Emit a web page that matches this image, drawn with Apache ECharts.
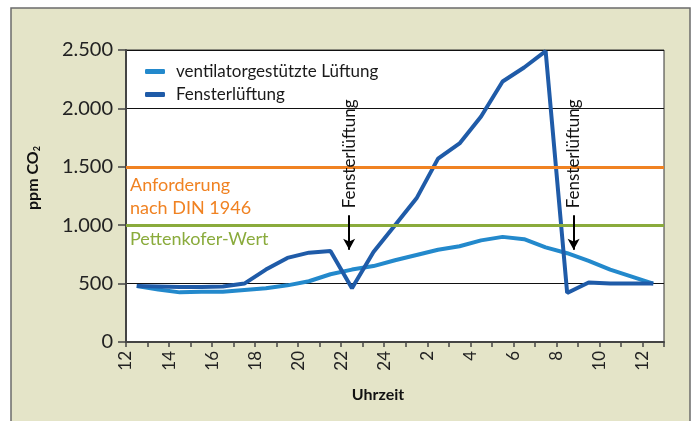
<!DOCTYPE html>
<html>
<head>
<meta charset="utf-8">
<script src="https://cdn.jsdelivr.net/npm/echarts@6/dist/echarts.min.js"></script>
<style>
  html, body { margin: 0; padding: 0; background: #fff; }
  #main { width: 695px; height: 421px; }
</style>
</head>
<body>
<div id="main"></div>
<script>
// Messzeitpunkte: halbe Stunden ab 12:30 (Stunden fortlaufend, 24 = Mitternacht)
var hours = [12.5, 13.5, 14.5, 15.5, 16.5, 17.5, 18.5, 19.5, 20.5, 21.5, 22.5, 23.5, 24.5,
             25.5, 26.5, 27.5, 28.5, 29.5, 30.5, 31.5, 32.5, 33.5, 34.5, 35.5, 36.5];
var ventilator = [480, 450, 425, 430, 430, 445, 460, 485, 520, 580, 620, 650, 700,
                  745, 790, 820, 870, 900, 880, 810, 760, 695, 620, 560, 500];
var fenster = [480, 475, 470, 470, 475, 500, 620, 720, 765, 780, 460, 770, 1000,
               1230, 1570, 1700, 1930, 2230, 2350, 2490, 420, 510, 500, 500, 500];
var seriesNames = ['ventilatorgestützte Lüftung', 'Fensterlüftung'];
var limitDin = 1500;
var limitPettenkofer = 1000;
// Zeitpunkte der Fensterlüftung (Pfeile)
var ventEvents = [22.37, 32.8];

var FONT = 'Lato';
var chart = echarts.init(document.getElementById('main'));

function pairs(ys) {
  return ys.map(function (v, i) { return [hours[i], v]; });
}

var option = {
  animation: false,
  backgroundColor: '#fff',
  textStyle: { fontFamily: FONT },
  graphic: [
    {
      type: 'rect', z: -10, silent: true,
      shape: { x: 11, y: 8, width: 679, height: 420 },
      style: { fill: '#e4e4c8', stroke: '#6b6b6b', lineWidth: 1.5 }
    },
    {
      type: 'text', z: 10, rotation: Math.PI / 2, x: 33, y: 178,
      style: {
        text: '{b|ppm CO}{s|2}',
        rich: {
          b: { fontFamily: FONT, fontWeight: 'bold', fontSize: 16, fill: '#111' },
          s: { fontFamily: FONT, fontWeight: 'bold', fontSize: 9, fill: '#111', padding: [8, 0, 0, 0] }
        },
        align: 'center', verticalAlign: 'middle'
      }
    },
    {
      type: 'text', z: 10, x: 378, y: 395,
      style: {
        text: 'Uhrzeit', fontFamily: FONT, fontWeight: 'bold', fontSize: 16, fill: '#111',
        align: 'center', verticalAlign: 'middle'
      }
    }
  ],
  grid: {
    left: 126, right: 31, top: 50, bottom: 79,
    show: true, backgroundColor: '#fff', borderColor: '#333', borderWidth: 1
  },
  legend: {
    left: 140, top: 58, orient: 'vertical',
    itemWidth: 20, itemHeight: 5, itemGap: 6,
    icon: 'roundRect',
    textStyle: { fontFamily: FONT, fontSize: 17, color: '#1a1a1a', padding: [0, 0, 0, 6] },
    data: seriesNames
  },
  xAxis: {
    type: 'value', min: 12, max: 37, interval: 1,
    axisLine: { show: true, lineStyle: { color: '#444', width: 2 } },
    axisTick: { show: true, length: 5, lineStyle: { color: '#444', width: 1.5 } },
    splitLine: { show: false },
    axisLabel: {
      rotate: 90, margin: 9, fontSize: 17, color: '#222', fontFamily: FONT,
      showMinLabel: true, showMaxLabel: true,
      formatter: function (v) {
        if ((v - 12) % 2 !== 0) return '';
        return String(v <= 24 ? v : v - 24);
      }
    }
  },
  yAxis: {
    type: 'value', min: 0, max: 2500, interval: 500,
    axisLine: { show: true, lineStyle: { color: '#444', width: 2 } },
    axisTick: { show: true, length: 8, lineStyle: { color: '#444', width: 1.5 } },
    splitLine: { show: true, lineStyle: { color: '#111', width: 1 } },
    axisLabel: {
      margin: 13, fontSize: 20, color: '#222', fontFamily: FONT,
      formatter: function (v) { return v >= 1000 ? (v / 1000).toFixed(3) : String(v); }
    }
  },
  series: [
    {
      name: seriesNames[0], type: 'line', data: pairs(ventilator),
      symbol: 'none', color: '#2389cc',
      lineStyle: { width: 4, color: '#2389cc' },
      markLine: {
        silent: true, symbol: 'none',
        data: [
          {
            yAxis: limitDin,
            lineStyle: { color: '#f08222', width: 3, type: 'solid' },
            label: {
              show: true, position: 'insideStartBottom', distance: [4, 7],
              formatter: 'Anforderung\nnach DIN 1946', color: '#f08222',
              fontFamily: FONT, fontSize: 18, lineHeight: 23
            }
          },
          {
            yAxis: limitPettenkofer,
            lineStyle: { color: '#8aab3c', width: 3, type: 'solid' },
            label: {
              show: true, position: 'insideStartBottom', distance: [4, 5],
              formatter: 'Pettenkofer-Wert', color: '#8aab3c',
              fontFamily: FONT, fontSize: 18
            }
          }
        ]
      }
    },
    {
      name: seriesNames[1], type: 'line', data: pairs(fenster),
      symbol: 'none', color: '#1f5ba8',
      lineStyle: { width: 4, color: '#1f5ba8' },
      markLine: {
        silent: true, symbol: ['none', 'arrow'], symbolSize: [9, 11],
        lineStyle: { color: '#000', width: 2, type: 'solid' },
        label: { show: false },
        data: ventEvents.map(function (h) {
          return [{ coord: [h, 1085] }, { coord: [h, 790] }];
        })
      },
      markPoint: {
        silent: true, symbol: 'rect', symbolSize: 0,
        label: {
          show: true, position: 'inside', rotate: 90,
          formatter: 'Fensterlüftung', color: '#111', fontFamily: FONT, fontSize: 17
        },
        data: ventEvents.map(function (h) {
          return { coord: [h, 1610] };
        })
      }
    }
  ]
};

chart.setOption(option);
</script>
</body>
</html>
